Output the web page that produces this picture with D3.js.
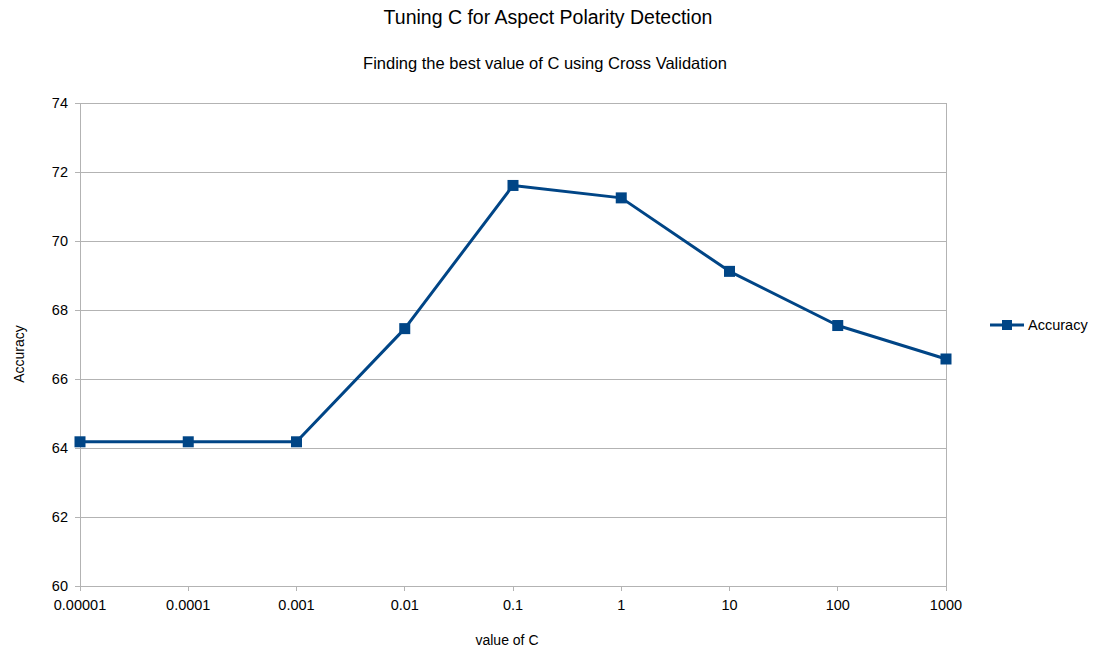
<!DOCTYPE html>
<html><head><meta charset="utf-8">
<script src="https://cdn.jsdelivr.net/npm/d3@7"></script>
<style>body{margin:0;background:#fff}svg{display:block;font-family:"Liberation Sans",Arial,sans-serif}</style>
</head><body><svg id="c" width="1099" height="653"></svg>
<script>
const categories = ["0.00001","0.0001","0.001","0.01","0.1","1","10","100","1000"];
const accuracy = [64.18, 64.18, 64.18, 67.46, 71.61, 71.25, 69.12, 67.55, 66.58];
const yTicks = [60, 62, 64, 66, 68, 70, 72, 74];
const seriesName = "Accuracy";

const svg = d3.select("#c");
const L = 80, R = 946, T = 103, B = 586;
const x = d3.scalePoint().domain(categories).range([L, R]).padding(0);
const y = d3.scaleLinear().domain([60, 74]).range([B, T]);
const color = "#004586", grid = "#b3b3b3";

// grid
svg.append("g").selectAll("line").data(yTicks).join("line")
  .attr("x1", L - 5).attr("x2", R).attr("y1", d => y(d)).attr("y2", d => y(d))
  .attr("stroke", grid).attr("stroke-width", 1).attr("shape-rendering", "crispEdges");
// border (left & right)
svg.append("line").attr("x1", L).attr("x2", L).attr("y1", T).attr("y2", B + 5).attr("stroke", grid).attr("shape-rendering","crispEdges");
svg.append("line").attr("x1", R).attr("x2", R).attr("y1", T).attr("y2", B).attr("stroke", grid).attr("shape-rendering","crispEdges");
// x ticks
svg.append("g").selectAll("line").data(categories).join("line")
  .attr("x1", d => x(d)).attr("x2", d => x(d)).attr("y1", B).attr("y2", B + 5)
  .attr("stroke", grid).attr("shape-rendering", "crispEdges");

// y labels
svg.append("g").selectAll("text").data(yTicks).join("text")
  .attr("x", L - 12).attr("y", d => y(d)).attr("dy", "0.35em")
  .attr("text-anchor", "end").attr("font-size", 14.5).attr("fill", "#000").text(d => d);
// x labels
svg.append("g").selectAll("text").data(categories).join("text")
  .attr("x", d => x(d)).attr("y", B + 24)
  .attr("text-anchor", "middle").attr("font-size", 14.5).attr("fill", "#000").text(d => d);

// line
svg.append("path").datum(accuracy)
  .attr("d", d3.line().x((d, i) => x(categories[i])).y(d => y(d)))
  .attr("fill", "none").attr("stroke", color).attr("stroke-width", 3).attr("stroke-linejoin", "round");
svg.append("g").selectAll("rect").data(accuracy).join("rect")
  .attr("x", (d, i) => x(categories[i]) - 5.5).attr("y", d => y(d) - 5.5)
  .attr("width", 11).attr("height", 11).attr("fill", color);

// titles
svg.append("text").attr("x", 548).attr("y", 24).attr("text-anchor", "middle").attr("font-size", 19.5).text("Tuning C for Aspect Polarity Detection");
svg.append("text").attr("x", 545).attr("y", 69).attr("text-anchor", "middle").attr("font-size", 16.5).text("Finding the best value of C using Cross Validation");
svg.append("text").attr("x", 507).attr("y", 645).attr("text-anchor", "middle").attr("font-size", 14).text("value of C");
svg.append("text").attr("transform", "translate(24,354) rotate(-90)").attr("text-anchor", "middle").attr("font-size", 14).text("Accuracy");

// legend
const lg = svg.append("g");
lg.append("line").attr("x1", 990).attr("x2", 1024).attr("y1", 325).attr("y2", 325).attr("stroke", color).attr("stroke-width", 3);
lg.append("rect").attr("x", 1002).attr("y", 320).attr("width", 10).attr("height", 10).attr("fill", color);
lg.append("text").attr("x", 1028).attr("y", 325).attr("dy", "0.35em").attr("font-size", 14.5).text(seriesName);
</script></body></html>
